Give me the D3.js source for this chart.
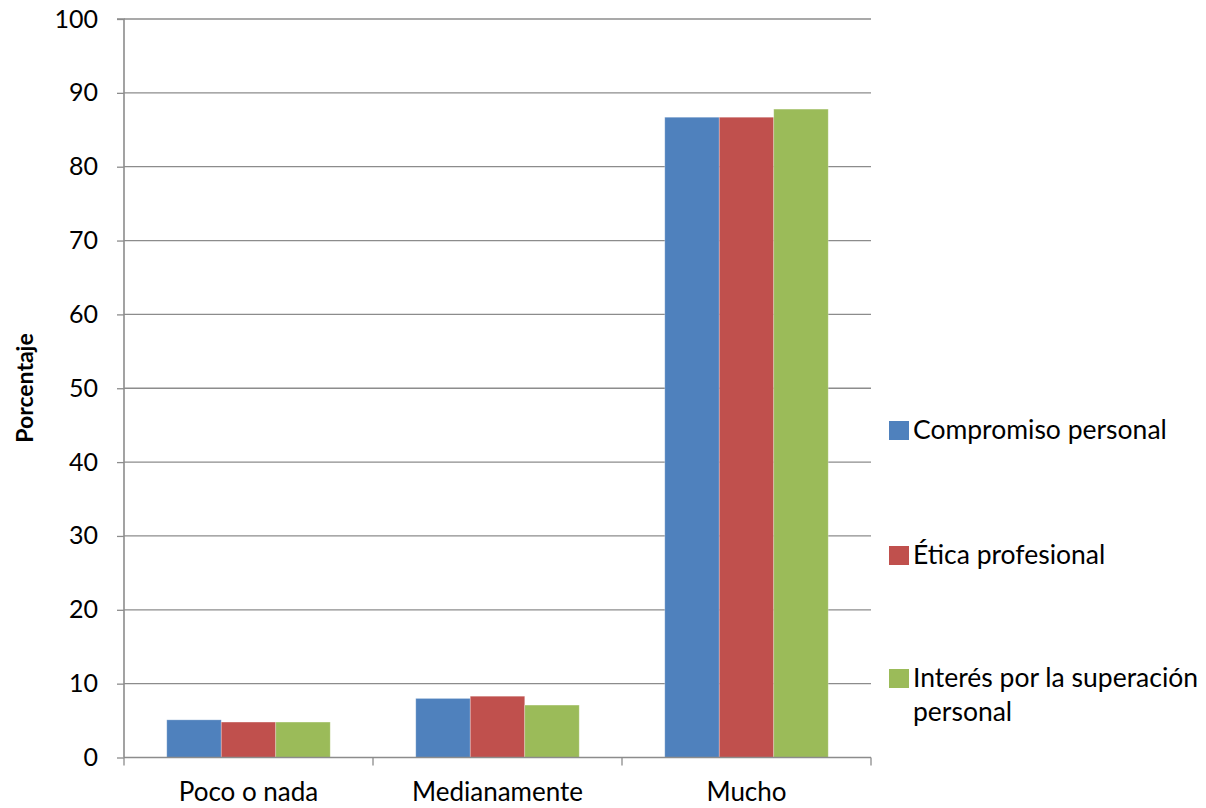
<!DOCTYPE html>
<html>
<head>
<meta charset="utf-8">
<script src="https://cdn.jsdelivr.net/npm/d3@7"></script>
<style>
  html, body { margin: 0; padding: 0; background: #fff; }
  svg { display: block; }
  text { font-family: "Lato", "Liberation Sans", sans-serif; fill: #000; }
</style>
</head>
<body>
<svg id="chart" width="1206" height="808"></svg>
<script>
const categories = ["Poco o nada", "Medianamente", "Mucho"];
const seriesNames = ["Compromiso personal", "Ética profesional", "Interés por la superación personal"];
const compromiso = [5.1, 8.0, 86.7];
const etica = [4.8, 8.3, 86.7];
const interes = [4.8, 7.1, 87.8];
const yTicks = [0, 10, 20, 30, 40, 50, 60, 70, 80, 90, 100];
const colors = ["#4F81BD", "#C0504D", "#9BBB59"];
const yTitle = "Porcentaje";

const seriesValues = [compromiso, etica, interes];

const svg = d3.select("#chart");
const mLeft = 124, mRight = 871, mTop = 19, mBottom = 757.5;

const x0 = d3.scaleBand().domain(categories).range([mLeft, mRight]).paddingInner(0).paddingOuter(0);
const x1 = d3.scaleBand().domain(seriesNames).range([0, x0.bandwidth()]).paddingInner(0).paddingOuter(0.785);
const y = d3.scaleLinear().domain([0, 100]).range([mBottom, mTop]);

const gridColor = "#8c8c8c";
const fontFam = "Lato, 'Liberation Sans', sans-serif";

// gridlines
svg.append("g")
  .selectAll("line")
  .data(yTicks.filter(d => d > 0))
  .join("line")
  .attr("x1", mLeft).attr("x2", mRight)
  .attr("y1", d => y(d)).attr("y2", d => y(d))
  .attr("stroke", gridColor).attr("stroke-width", 1.3);

// bars
const rows = categories.map((c, i) => ({ cat: c, vals: seriesNames.map((s, j) => ({ s, j, v: seriesValues[j][i] })) }));
svg.append("g")
  .selectAll("g")
  .data(rows)
  .join("g")
  .attr("transform", d => `translate(${x0(d.cat)},0)`)
  .selectAll("rect")
  .data(d => d.vals)
  .join("rect")
  .attr("x", d => x1(d.s))
  .attr("width", x1.bandwidth())
  .attr("y", d => y(d.v))
  .attr("height", d => y(0) - y(d.v))
  .attr("fill", d => colors[d.j])
  .attr("stroke", "rgba(255,255,255,0.35)")
  .attr("stroke-width", 0.8);

// y axis
const yAxis = d3.axisLeft(y).tickValues(yTicks).tickSize(7).tickPadding(19).tickFormat(d3.format("d"));
const gy = svg.append("g").attr("transform", `translate(${mLeft},0)`).call(yAxis);
gy.select(".domain").attr("stroke", gridColor).attr("stroke-width", 1.6).attr("d", `M-7,${mTop}H0V${mBottom}`);
gy.selectAll(".tick line").attr("stroke", gridColor).attr("stroke-width", 1.3);
gy.selectAll(".tick text").style("font-size", "25px").attr("font-family", fontFam).attr("fill", "#000");

// x axis
const xAxis = d3.axisBottom(x0).tickSize(0).tickPadding(25);
const gx = svg.append("g").attr("transform", `translate(0,${mBottom})`).call(xAxis);
gx.select(".domain").attr("stroke", gridColor).attr("stroke-width", 1.6).attr("d", `M${mLeft},0H${mRight}`);
gx.selectAll(".tick text").style("font-size", "26px").attr("font-family", fontFam).attr("fill", "#000");
// category boundary ticks
const bounds = categories.map(c => x0(c)).concat([mRight]);
svg.append("g").selectAll("line").data(bounds).join("line")
  .attr("x1", d => d).attr("x2", d => d)
  .attr("y1", mBottom).attr("y2", mBottom + 8)
  .attr("stroke", gridColor).attr("stroke-width", 1.3);

// y title
svg.append("text")
  .attr("transform", `translate(33,388) rotate(-90)`)
  .attr("text-anchor", "middle")
  .style("font-size", "23px")
  .style("font-weight", "bold")
  .text(yTitle);

// legend
const legendRows = [
  { lines: ["Compromiso personal"], y: 431 },
  { lines: ["Ética profesional"], y: 556 },
  { lines: ["Interés por la superación", "personal"], y: 679 }
];
const lg = svg.append("g");
legendRows.forEach((r, i) => {
  lg.append("rect").attr("x", 889).attr("y", r.y - 10).attr("width", 20).attr("height", 19).attr("fill", colors[i]);
  const t = lg.append("text").attr("x", 913).attr("y", r.y + 8).style("font-size", "26.5px");
  r.lines.forEach((ln, k) => {
    t.append("tspan").attr("x", 913).attr("dy", k === 0 ? 0 : 34).text(ln);
  });
});
</script>
</body>
</html>
